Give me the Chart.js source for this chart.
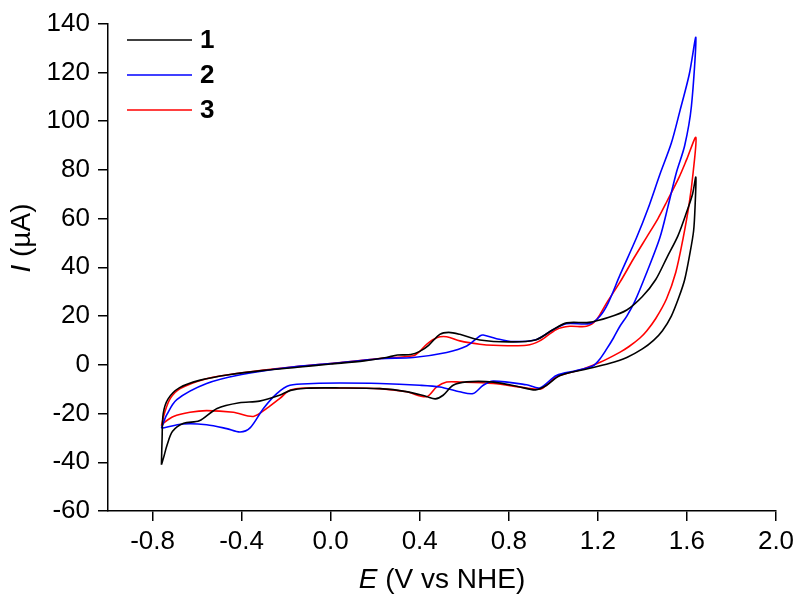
<!DOCTYPE html>
<html>
<head>
<meta charset="utf-8">
<script src="https://cdn.jsdelivr.net/npm/chart.js@4.4.1/dist/chart.umd.min.js"></script>
<style>
  html, body { margin: 0; padding: 0; background: #fff; }
  #wrap { width: 800px; height: 600px; }
</style>
</head>
<body>
<div id="wrap"><canvas id="cv"></canvas></div>
<script>
// --- Data (E in V vs NHE, I in uA), each loop: anodic sweep then cathodic sweep ---
const seriesNames = ["1", "2", "3"];
const seriesColors = ["#000000", "#0000ff", "#ff0000"];
const xTickValues = [-0.8, -0.4, 0.0, 0.4, 0.8, 1.2, 1.6, 2.0];
const yTickValues = [-60, -40, -20, 0, 20, 40, 60, 80, 100, 120, 140];

const e1 = [-0.760, -0.757, -0.752, -0.730, -0.680, -0.590, -0.450, -0.300, -0.150, 0.000, 0.150, 0.250, 0.300, 0.360, 0.400, 0.440, 0.490, 0.530, 0.580, 0.670, 0.800, 0.920, 1.000, 1.060, 1.160, 1.250, 1.330, 1.400, 1.460, 1.510, 1.560, 1.600, 1.625, 1.640,
            1.637, 1.630, 1.613, 1.590, 1.565, 1.530, 1.490, 1.450, 1.400, 1.330, 1.250, 1.150, 1.030, 0.970, 0.920, 0.850, 0.730, 0.610, 0.550, 0.505, 0.470, 0.430, 0.340, 0.220, 0.040, -0.110, -0.180, -0.230, -0.320, -0.410, -0.510, -0.590, -0.660, -0.710, -0.735, -0.750, -0.760];
const i1 = [-41, -30, -20, -14, -9.5, -6.4, -4, -2.3, -1, 0.3, 1.6, 3, 4.0, 4.2, 5.5, 8, 12.5, 13.3, 12.5, 10.2, 9.4, 10.2, 14.5, 17.2, 17.4, 19.5, 22.5, 28, 35, 44, 53, 63, 70, 77,
            66, 55, 45.5, 35, 28, 20, 14, 10, 6.5, 3, 0.5, -1.7, -4.4, -8.4, -10.3, -9.1, -7.1, -7, -8.4, -12.5, -14, -13, -11, -9.8, -9.5, -9.6, -10.5, -12.5, -14.9, -15.6, -17.9, -23, -24, -27.3, -33, -38, -41];

const e2 = [-0.760, -0.736, -0.691, -0.557, -0.400, -0.183, 0.000, 0.221, 0.371, 0.521, 0.611, 0.670, 0.685, 0.745, 0.820, 0.925, 1.000, 1.059, 1.164, 1.209, 1.246, 1.300, 1.373, 1.425, 1.478, 1.530, 1.568, 1.610, 1.640,
            1.620, 1.590, 1.553, 1.515, 1.478, 1.420, 1.366, 1.330, 1.299, 1.270, 1.239, 1.210, 1.179, 1.104, 1.014, 0.939, 0.880, 0.730, 0.685, 0.640, 0.580, 0.490, 0.400, 0.221, 0.042, -0.078, -0.183, -0.242, -0.302, -0.362, -0.407, -0.467, -0.557, -0.662, -0.760];
const i2 = [-26, -20.5, -14.3, -7.7, -4, -1.0, 0.5, 2.5, 3.0, 5.05, 7.7, 11.8, 12.2, 10.7, 9.5, 10.4, 14.5, 16.9, 16.9, 19.9, 25.3, 37, 52, 64, 78, 91, 104, 119, 134.3,
            106, 90, 79, 65, 52, 38, 26, 20, 15.8, 11, 6.4, 2.5, -0.4, -2.4, -4.4, -9.5, -8.2, -6.7, -8.4, -11.8, -11.1, -9.1, -8.4, -7.7, -7.5, -7.7, -8.4, -11.8, -17.9, -25.9, -27.6, -26.2, -24.6, -24.3, -26];

const e3 = [-0.760, -0.744, -0.720, -0.676, -0.557, -0.407, -0.183, 0.000, 0.220, 0.371, 0.400, 0.431, 0.476, 0.521, 0.580, 0.670, 0.730, 0.880, 0.939, 1.014, 1.074, 1.149, 1.194, 1.239, 1.300, 1.360, 1.420, 1.470, 1.510, 1.565, 1.600, 1.640,
            1.628, 1.610, 1.583, 1.550, 1.508, 1.460, 1.420, 1.389, 1.340, 1.300, 1.210, 1.134, 1.014, 0.947, 0.880, 0.730, 0.580, 0.521, 0.476, 0.431, 0.341, 0.221, 0.042, -0.108, -0.183, -0.228, -0.287, -0.347, -0.437, -0.557, -0.632, -0.706, -0.745, -0.760];
const i3 = [-25, -19.2, -13.8, -9.8, -5.7, -3.4, -1.0, 0.5, 2.6, 3.7, 5.5, 8.4, 11.1, 11.5, 9.8, 8.4, 8.0, 8.0, 9.8, 14.5, 15.8, 15.8, 18.5, 25.3, 34, 43.5, 52.5, 60, 67, 77, 84.5, 93.3,
            79, 66, 52, 38, 27, 19, 14, 11, 7.5, 5.2, 1.0, -1.7, -5, -9.8, -9.5, -7.7, -7.1, -7.1, -9.1, -13.1, -11.1, -9.8, -9.5, -9.5, -10.4, -13.8, -17.9, -21.2, -19.5, -18.8, -19.5, -21.2, -23.5, -25];

function toPoints(es, is) {
    return es.map((e, k) => ({ x: e, y: is[k] }));
}

const FONT = "'Liberation Sans', Arial, sans-serif";

// --- Legend and axis titles ---
const decorPlugin = {
    id: "decor",
    afterDraw(chart) {
        const ctx = chart.ctx, area = chart.chartArea, ys = chart.scales.y;
        ctx.save();
        // legend
        ctx.font = "bold 26px " + FONT;
        ctx.textBaseline = "middle";
        ctx.textAlign = "left";
        chart.data.datasets.forEach((ds, k) => {
            const y = 40 + k * 35;
            ctx.strokeStyle = ds.borderColor;
            ctx.lineWidth = 1.6;
            ctx.beginPath();
            ctx.moveTo(127, y);
            ctx.lineTo(192, y);
            ctx.stroke();
            ctx.fillStyle = "#000";
            ctx.fillText(ds.label, 200, y + 1);
        });
        // x title
        ctx.fillStyle = "#000";
        const cx = (area.left + area.right) / 2;
        ctx.font = "italic 28px " + FONT;
        const wE = ctx.measureText("E").width;
        ctx.font = "28px " + FONT;
        const wRest = ctx.measureText(" (V vs NHE)").width;
        let x0 = cx - (wE + wRest) / 2;
        ctx.font = "italic 28px " + FONT;
        ctx.fillText("E", x0, 580);
        ctx.font = "28px " + FONT;
        ctx.fillText(" (V vs NHE)", x0 + wE, 580);
        // y title
        ctx.translate(22, ys.getPixelForValue(52));
        ctx.rotate(-Math.PI / 2);
        ctx.font = "italic 28px " + FONT;
        const wI = ctx.measureText("I").width;
        ctx.font = "28px " + FONT;
        const wR = ctx.measureText(" (\u00b5A)").width;
        x0 = -(wI + wR) / 2;
        ctx.font = "italic 28px " + FONT;
        ctx.fillText("I", x0, 0);
        ctx.font = "28px " + FONT;
        ctx.fillText(" (\u00b5A)", x0 + wI, 0);
        ctx.restore();
    }
};

const datasets = [[e1, i1], [e2, i2], [e3, i3]].map((d, k) => ({
    label: seriesNames[k],
    data: toPoints(d[0], d[1]),
    borderColor: seriesColors[k],
    backgroundColor: seriesColors[k],
    borderWidth: 1.6,
    showLine: true,
    pointRadius: 0,
    tension: 0.3,
    fill: false
}));

new Chart(document.getElementById("cv"), {
    type: "scatter",
    data: { datasets },
    plugins: [decorPlugin],
    options: {
        responsive: true,
        maintainAspectRatio: false,
        animation: false,
        layout: { padding: { left: 0, top: 16, right: 24, bottom: 0 } },
        plugins: { legend: { display: false }, tooltip: { enabled: false } },
        scales: {
            x: {
                type: "linear",
                min: -1.0,
                max: 2.0,
                afterBuildTicks: s => { s.ticks = xTickValues.map(v => ({ value: v })); },
                afterFit: s => { s.height = 89; },
                grid: { drawOnChartArea: false, drawTicks: true, tickLength: 10, color: "#000", lineWidth: 1.5 },
                border: { display: true, color: "#000", width: 1.5 },
                ticks: { color: "#000", padding: 5, font: { family: FONT, size: 26 }, callback: v => v.toFixed(1), maxRotation: 0, autoSkip: false }
            },
            y: {
                type: "linear",
                min: -60,
                max: 140,
                afterBuildTicks: s => { s.ticks = yTickValues.map(v => ({ value: v })); },
                afterFit: s => { s.width = 108; },
                grid: { drawOnChartArea: false, drawTicks: true, tickLength: 10, color: "#000", lineWidth: 1.5 },
                border: { display: true, color: "#000", width: 1.5 },
                ticks: { color: "#000", padding: 8, font: { family: FONT, size: 26 }, autoSkip: false }
            }
        }
    }
});
</script>
</body>
</html>
